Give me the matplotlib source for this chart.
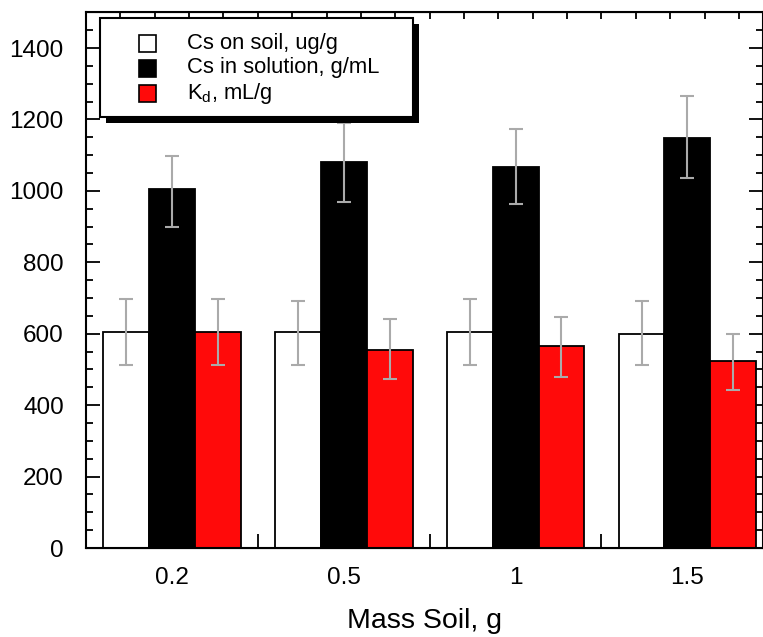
import numpy as np
import matplotlib
matplotlib.use('Agg')
import matplotlib.pyplot as plt
from matplotlib.patches import Rectangle
from matplotlib.transforms import IdentityTransform

plt.rcParams['font.family'] = ['Liberation Sans', 'DejaVu Sans']

mass_labels = ['0.2', '0.5', '1', '1.5']

# Cs on soil, ug/g
soil = [605, 605, 605, 600]
soil_lo = [513, 513, 513, 513]
soil_hi = [698, 691, 698, 691]

# Cs in solution, g/mL
solution = [1004, 1080, 1068, 1149]
solution_lo = [900, 970, 962, 1037]
solution_hi = [1097, 1189, 1172, 1266]

# Kd, mL/g
kd = [605, 555, 565, 524]
kd_lo = [513, 474, 478, 443]
kd_hi = [697, 640, 646, 600]

series = [
    ('Cs on soil, ug/g', soil, soil_lo, soil_hi, 'white'),
    ('Cs in solution, g/mL', solution, solution_lo, solution_hi, 'black'),
    (r'K$_\mathregular{d}$, mL/g', kd, kd_lo, kd_hi, '#ff0a0a'),
]

W, H = 763, 637
fig = plt.figure(figsize=(W / 100, H / 100), dpi=100)
ax = fig.add_axes([0.1127, 0.1397, 0.8873, 0.841])

x = np.arange(len(mass_labels))
w = 0.267
for i, (name, vals, lo, hi, col) in enumerate(series):
    pos = x + (i - 1) * w
    vals = np.array(vals)
    yerr = [vals - np.array(lo), np.array(hi) - vals]
    ax.bar(pos, vals, w, color=col, edgecolor='black', linewidth=1.3, zorder=2)
    ax.errorbar(pos, vals, yerr=yerr, fmt='none', ecolor='#aaaaaa',
                elinewidth=1.5, capsize=5, capthick=1.5, zorder=3)

ax.set_xlim(-0.5, 3.44)
ax.set_ylim(0, 1500)

ax.set_yticks(np.arange(0, 1401, 200))
ax.set_yticks(np.arange(0, 1501, 50), minor=True)
ax.tick_params(axis='y', which='major', direction='in', length=10, width=1.3,
               right=True, labelsize=17.5, pad=16)
ax.tick_params(axis='y', which='minor', direction='in', length=5, width=1.3, right=True)

ax.set_xticks(x)
ax.set_xticklabels(mass_labels)
ax.tick_params(axis='x', which='major', length=0, labelsize=17.5, pad=14)

bottom = ax.secondary_xaxis('bottom')
bottom.set_xticks([0.5, 1.5, 2.5])
bottom.set_xticks(np.concatenate([x - 0.3, x + 0.3]), minor=True)
bottom.tick_params(which='major', direction='in', length=10, width=1.3, labelbottom=False)
bottom.tick_params(which='minor', direction='in', length=5, width=1.3)
bottom.set_xticklabels([])

top = ax.secondary_xaxis('top')
top.set_xticks([])
top.set_xticks(np.arange(-0.5, 3.45, 0.2), minor=True)
top.tick_params(which='minor', direction='in', length=5, width=1.3, labeltop=False)

for s in ax.spines.values():
    s.set_linewidth(1.5)

ax.set_xlabel('Mass Soil, g', fontsize=20.5, labelpad=13)

# legend box with drop shadow, laid out in pixels from the top-left corner
px = IdentityTransform()
bx0, bx1, by0, by1 = 100, 413, 18, 117
ax.add_patch(Rectangle((bx0 + 6, H - by1 - 6), bx1 - bx0, by1 - by0, transform=px,
                       facecolor='black', edgecolor='none', zorder=9, clip_on=False))
ax.add_patch(Rectangle((bx0, H - by1), bx1 - bx0, by1 - by0, transform=px,
                       facecolor='white', edgecolor='black', linewidth=1.5,
                       zorder=10, clip_on=False))
for i, (name, vals, lo, hi, col) in enumerate(series):
    yc = 43 + 25 * i
    ax.add_patch(Rectangle((139, H - yc - 8.5), 17, 17, transform=px, facecolor=col,
                           edgecolor='black', linewidth=1.2, zorder=11, clip_on=False))
    ax.text(187, H - yc, name, transform=px, fontsize=15.8, va='center', ha='left',
            zorder=11, clip_on=False)

fig.savefig('out.png', dpi=100)
